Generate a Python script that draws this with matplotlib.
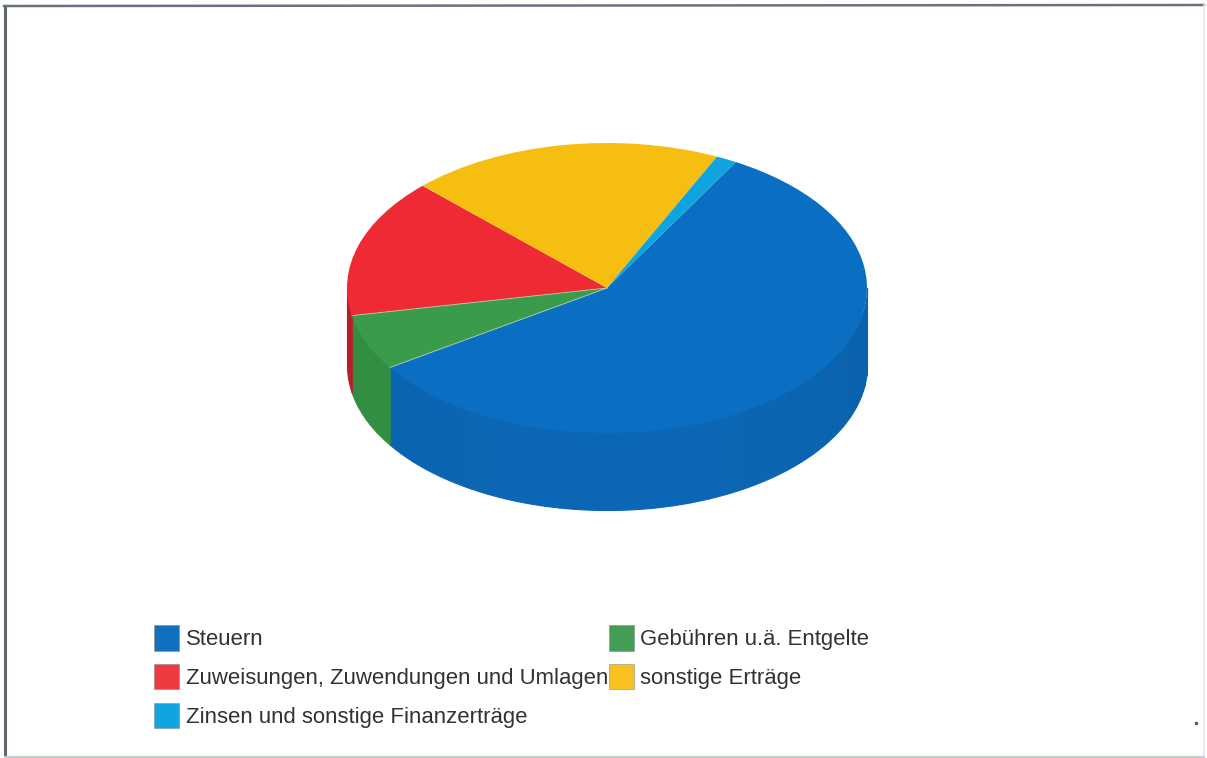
import numpy as np
import matplotlib
matplotlib.use("Agg")
import matplotlib.pyplot as plt
from matplotlib.lines import Line2D
from matplotlib.patches import Patch

plt.rcParams['font.family'] = ['Liberation Sans', 'DejaVu Sans']

categories = ['Steuern', 'Gebühren u.ä. Entgelte', 'Zuweisungen, Zuwendungen und Umlagen',
              'sonstige Erträge', 'Zinsen und sonstige Finanzerträge']
shares = [57.5, 6.2, 15.5, 19.5, 1.3]
top_colors = ['#0A6FC2', '#3A9C4A', '#EE2A35', '#F7BE12', '#0FA3E0']
wall_colors = ['#0B67B6', '#349443', '#C0202C', '#D9A510', '#0B90C8']
legend_colors = ['#1270C0', '#459C55', '#EE3A40', '#F8C020', '#10A5E0']
legend_order = [0, 2, 4, 1, 3]
START = 60.3

W, H = 1207, 758
CX, CY, RX, RY, DEPTH = 607, 288, 260, 145, 77

fig = plt.figure(figsize=(W / 100, H / 100), dpi=100, facecolor='white')
ax = fig.add_axes([0, 0, 1, 1])

wedges, _ = ax.pie(shares, colors=top_colors, startangle=START, counterclock=False,
                   radius=1, wedgeprops=dict(linewidth=0, zorder=3))
ax.set_aspect('auto')
ax.set_xlim(-CX / RX, (W - CX) / RX)
ax.set_ylim((CY - H) / RY, CY / RY)
ax.axis('off')

# side wall
d = DEPTH / RY
angle = START
boundaries = []
for share, col in zip(shares, wall_colors):
    a0 = angle - share * 3.6
    boundaries.append(a0)
    lo = a0 % 360
    hi = lo + share * 3.6
    for k in (0, 360):
        s, e = max(lo + k - 360, 180), min(hi + k - 360, 360)
        if e > s:
            edges = np.linspace(s, e, max(2, int((e - s) / 4)))
            for t0, t1 in zip(edges[:-1], edges[1:]):
                tt = np.radians(np.linspace(t0, t1, 6))
                shade = 1 - 0.05 * np.sin(np.radians((t0 + t1) / 2 - 270)) ** 2
                rgb = np.array(matplotlib.colors.to_rgb(col)) * shade
                # reach slightly under the top face so no pale seam shows
                ax.fill_between(np.cos(tt), np.sin(tt) - d, np.sin(tt) * 0.96,
                                facecolor=rgb, edgecolor=rgb, linewidth=0.8, zorder=2)
    angle = a0

# thin pale separators on the top face
for b in (boundaries[0], boundaries[1]):
    ax.plot([0, np.cos(np.radians(b))], [0, np.sin(np.radians(b))],
            color='#BFD8C0', lw=0.7, alpha=0.7, zorder=4)

handles = [Patch(facecolor=legend_colors[i], edgecolor='#8a8a8a', linewidth=0.4) for i in legend_order]
labels = [categories[i] for i in legend_order]
leg = fig.legend(handles, labels, ncol=2, loc='upper left',
                 bbox_to_anchor=(154 / W, 1 - 625 / H), frameon=False, fontsize=15.9,
                 handlelength=1.13, handleheight=1.4, handletextpad=0.3,
                 labelspacing=0.6, columnspacing=0.03, borderpad=0, borderaxespad=0,
                 labelcolor='#2f3336')

# scanned page frame and speck
def line(x0, y0, x1, y1, c, lw):
    fig.add_artist(Line2D([x0 / W, x1 / W], [1 - y0 / H, 1 - y1 / H], color=c, lw=lw))
line(5, 6, 5, H, '#5F6670', 2.2)
line(4, 6, 1204, 5, '#6A7280', 1.8)
line(1204, 5, 1204, H, '#E4E6EA', 1.2)
line(5, 756.5, 1204, 756.5, '#C9CDD3', 1.6)
fig.add_artist(Line2D([1196 / W], [1 - 723 / H], marker='o', ms=1.5, color='#555555', lw=0))

fig.savefig('out.png', dpi=100, facecolor='white')
